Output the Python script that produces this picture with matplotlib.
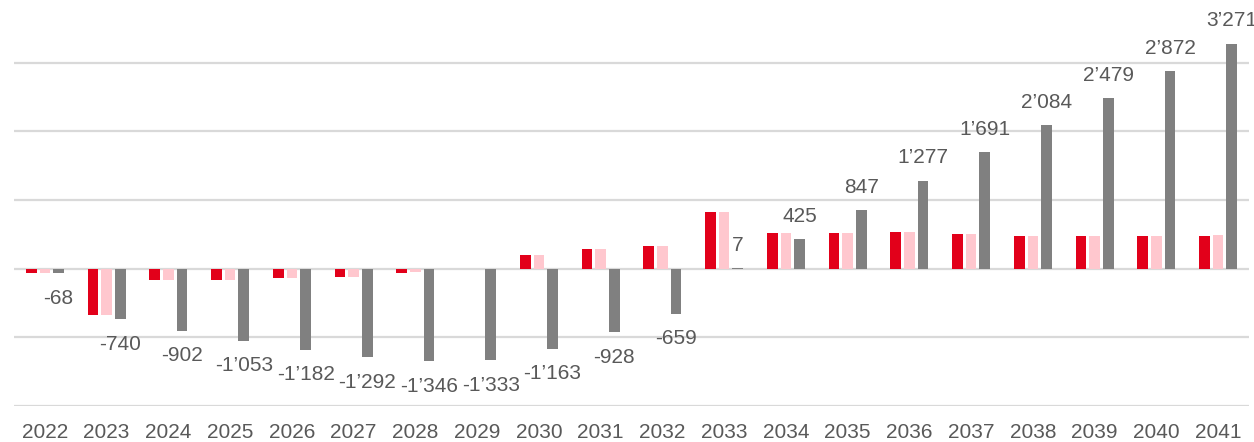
import matplotlib.pyplot as plt
import numpy as np

plt.rcParams['font.family'] = ['Liberation Sans', 'DejaVu Sans']

years = [str(y) for y in range(2022, 2042)]
red_vals = [-70, -680, -172, -160, -140, -120, -60, 0, 198, 285,
            330, 822, 513, 512, 527, 508, 478, 478, 478, 480]
pink_vals = [-65, -680, -170, -160, -135, -120, -55, 0, 198, 285,
             330, 822, 515, 512, 527, 510, 480, 480, 480, 495]
gray_vals = [-68, -740, -902, -1053, -1182, -1292, -1346, -1333, -1163, -928,
             -659, 7, 425, 847, 1277, 1691, 2084, 2479, 2872, 3271]


def fmt(v):
    return f"{v:,}".replace(",", "\u2019")


fig = plt.figure(figsize=(12.54, 4.42), dpi=100)
ax = fig.add_axes([14 / 1254, 36 / 442, 1235 / 1254, 406 / 442])

x = np.arange(len(years))
w = 0.173
step = 0.222
ax.bar(x - step, red_vals, w, color='#E2001A', zorder=3)
ax.bar(x, pink_vals, w, color='#FFC7CE', zorder=3)
ax.bar(x + step, gray_vals, w, color='#808080', zorder=3)

for xi, v in zip(x, gray_vals):
    off = 16.5 if v >= 0 else -18
    ax.annotate(fmt(v), (xi + step, v), xytext=(0, off), textcoords='offset points',
                ha='center', va='center', fontsize=15, color='#595959',
                annotation_clip=False)

ax.set_xlim(-0.5, len(years) - 0.5)
ax.set_ylim(-2000, 3910)
ax.set_yticks([-2000, -1000, 0, 1000, 2000, 3000])
ax.set_yticklabels([])
ax.grid(axis='y', color='#D9D9D9', linewidth=1.6, zorder=0)
ax.tick_params(axis='y', length=0)
ax.set_xticks(x)
ax.set_xticklabels(years, fontsize=15, color='#595959')
ax.tick_params(axis='x', length=0, pad=12)
for s in ax.spines.values():
    s.set_visible(False)

fig.savefig('out.png', dpi=100)
